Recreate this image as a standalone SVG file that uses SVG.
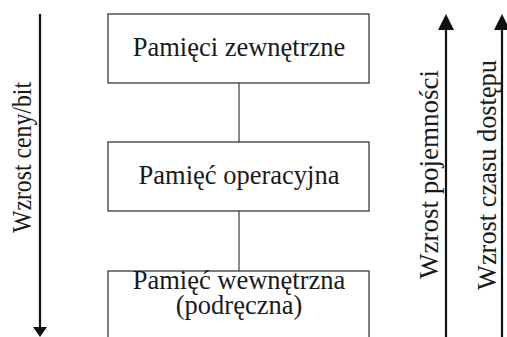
<svg xmlns="http://www.w3.org/2000/svg" width="507" height="337" viewBox="0 0 507 337">
  <style>
    .box { fill: #fff; stroke: #3a3a3a; stroke-width: 1.3; }
    .link { stroke: #4a4a4a; stroke-width: 1.3; fill: none; }
    .axis { stroke: #111; stroke-width: 2.2; fill: none; }
    .head { fill: #111; stroke: none; }
    .t { font-family: "Liberation Serif", "Times New Roman", serif; font-size: 26.5px; fill: #1a1a1a; }
    .c { text-anchor: middle; }
    .v { font-size: 28px; }
  </style>
  <rect width="507" height="337" fill="#fff"/>

  <!-- connectors between memory levels -->
  <g id="connectors">
    <line class="link" x1="239" y1="83" x2="239" y2="142"/>
    <line class="link" x1="239" y1="211" x2="239" y2="271"/>
  </g>

  <g id="node-external">
    <rect class="box" x="108" y="14" width="261" height="69"/>
    <text class="t c" x="239" y="56">Pamięci zewnętrzne</text>
  </g>

  <g id="node-main">
    <rect class="box" x="108" y="142" width="261" height="69"/>
    <text class="t c" x="239" y="184">Pamięć operacyjna</text>
  </g>

  <g id="node-cache">
    <rect class="box" x="108" y="271" width="261" height="80"/>
    <text class="t c" x="239" y="289">Pamięć wewnętrzna</text>
    <text class="t c" x="239" y="314">(podręczna)</text>
  </g>

  <!-- axis: cost per bit (downwards) -->
  <g id="axis-cost">
    <line class="axis" x1="40" y1="14" x2="40" y2="328"/>
    <polygon class="head" points="33,327 47,327 40,337"/>
    <text class="t v" transform="translate(31,233) rotate(-90)" textLength="151" lengthAdjust="spacingAndGlyphs">Wzrost ceny/bit</text>
  </g>

  <!-- axis: capacity (upwards) -->
  <g id="axis-capacity">
    <line class="axis" x1="446" y1="28" x2="446" y2="337"/>
    <polygon class="head" points="438,30 454,30 446,14"/>
    <text class="t v" transform="translate(438,279) rotate(-90)" textLength="209" lengthAdjust="spacingAndGlyphs">Wzrost pojemności</text>
  </g>

  <!-- axis: access time (upwards) -->
  <g id="axis-access">
    <line class="axis" x1="502" y1="28" x2="502" y2="337"/>
    <polygon class="head" points="494,30 510,30 502,14"/>
    <text class="t v" transform="translate(496,290) rotate(-90)" textLength="230" lengthAdjust="spacingAndGlyphs">Wzrost czasu dostępu</text>
  </g>
</svg>
